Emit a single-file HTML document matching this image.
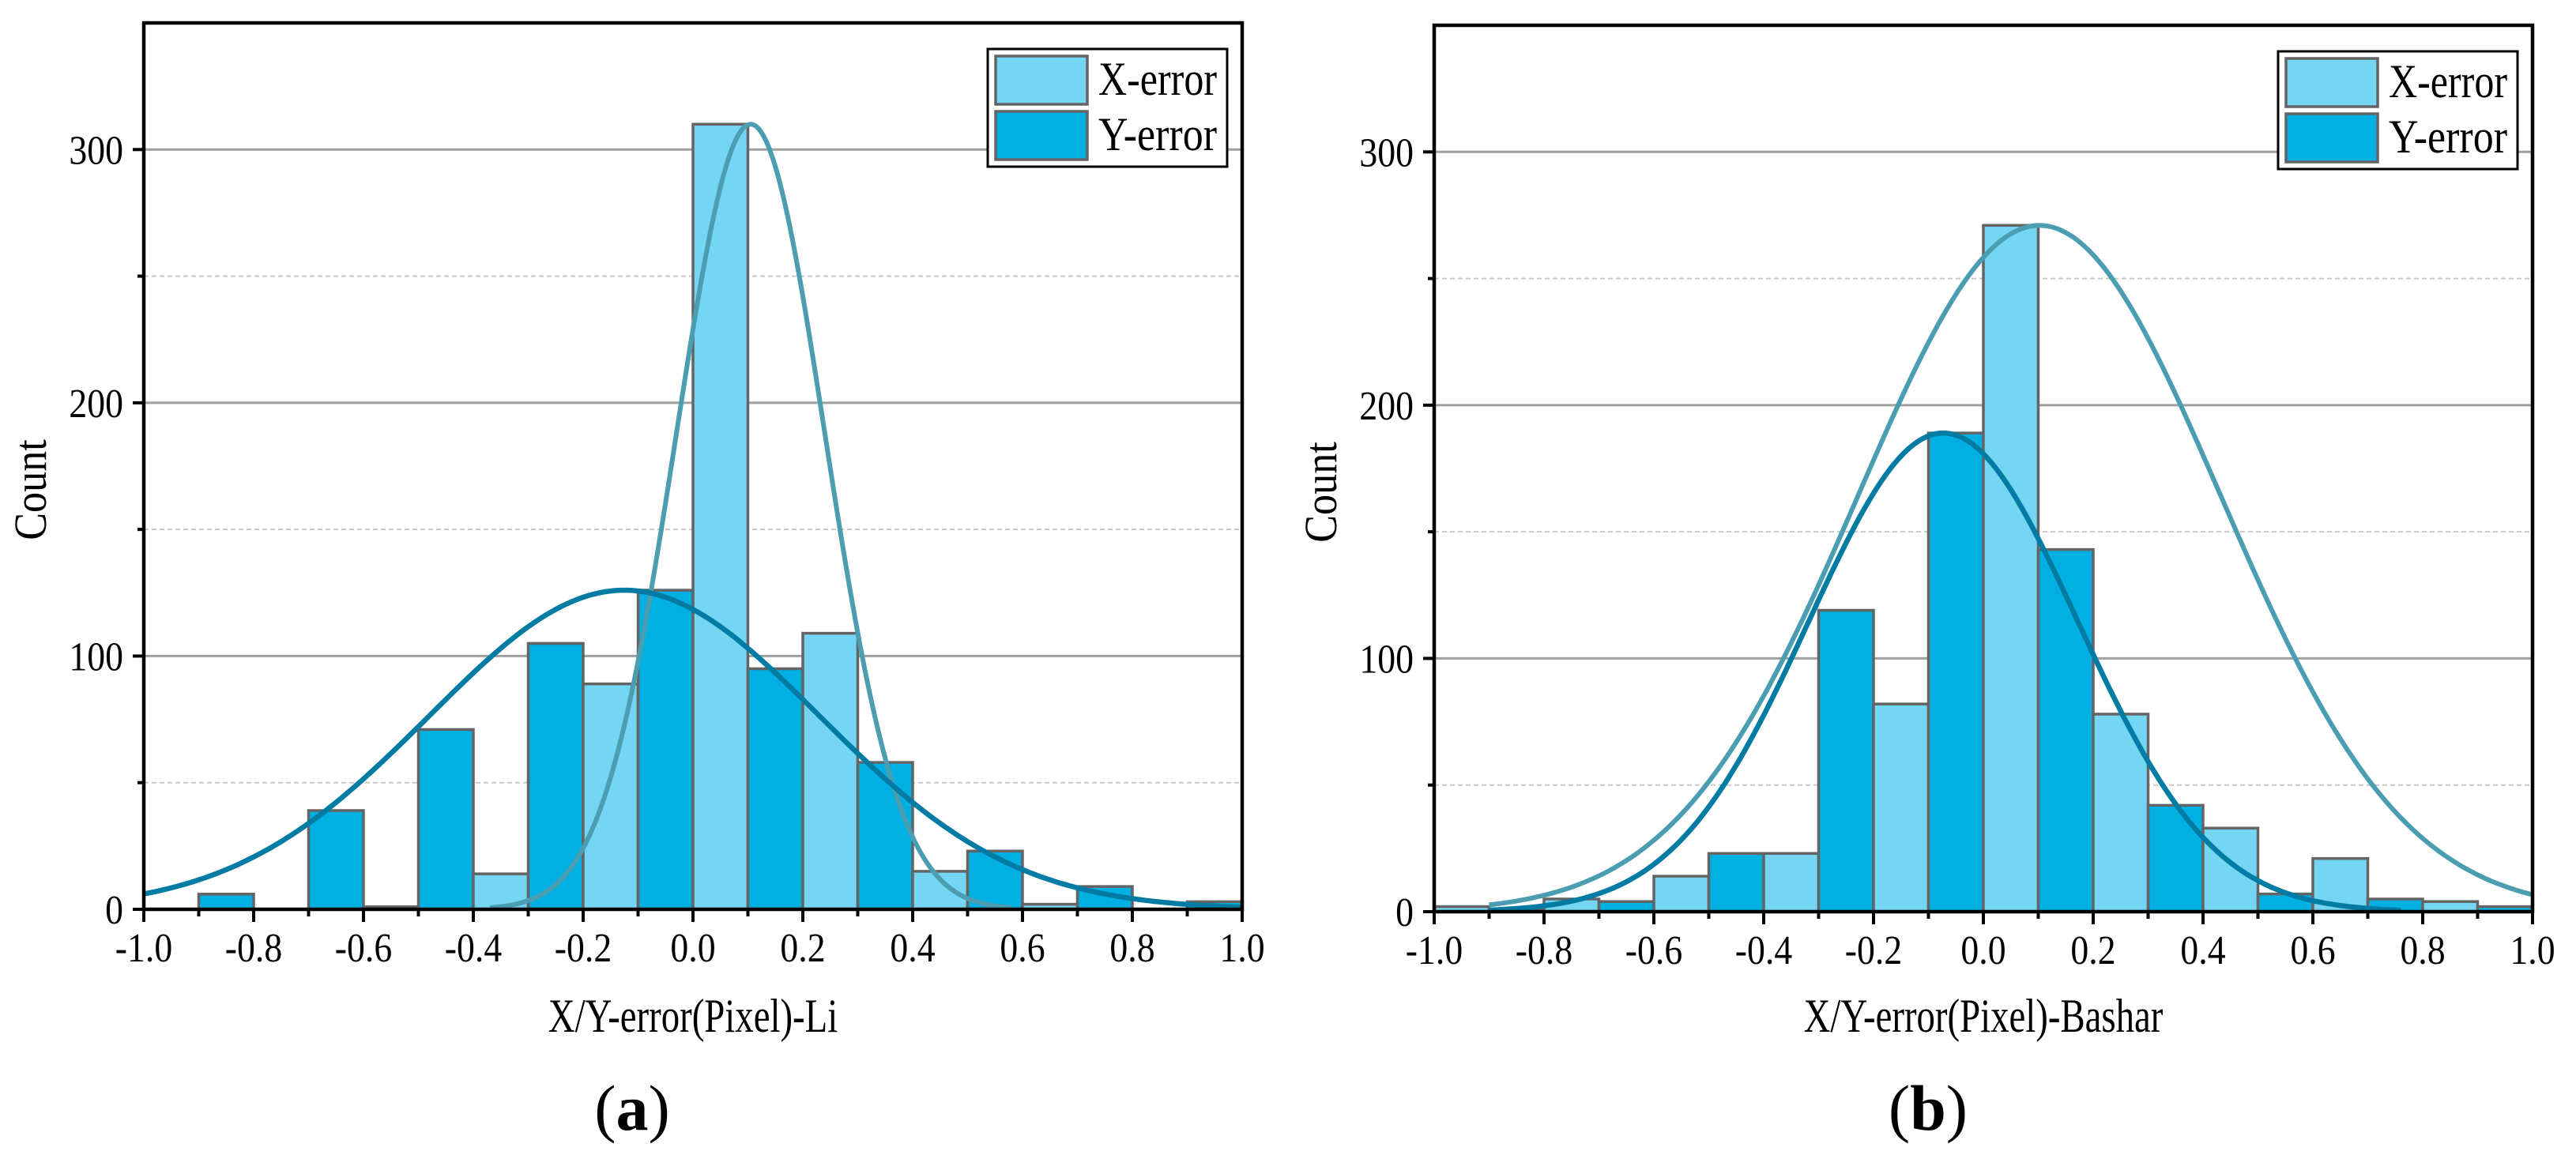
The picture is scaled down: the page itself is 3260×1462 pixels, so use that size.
<!DOCTYPE html>
<html><head><meta charset="utf-8"><style>
html,body{margin:0;padding:0;background:#fff}
svg{display:block}
text{font-family:"Liberation Serif",serif;fill:#000}
</style></head><body>
<svg id="chart" width="3260" height="1462" viewBox="0 0 3260 1462" xmlns="http://www.w3.org/2000/svg"></svg>
<script>
// Panel (a) data: bins from -1.0 to 1.0 width 0.1
const binStarts = [-1.0,-0.9,-0.8,-0.7,-0.6,-0.5,-0.4,-0.3,-0.2,-0.1,0.0,0.1,0.2,0.3,0.4,0.5,0.6,0.7,0.8,0.9];
const aXCounts = [0,0,0,0,1,0,14,0,89,0,310,0,109,0,15,0,2,0,0,0];
const aYCounts = [0,6,0,39,0,71,0,105,0,126,0,95,0,58,0,23,0,9,0,3];
const aXFit = [310,0.105,0.135,-0.37,0.58]; // peak, mean, sigma, from, to
const aYFit = [126,-0.125,0.355,-1.0,1.0];
// Panel (b) data
const bXCounts = [2,0,5,0,14,0,23,0,82,0,271,0,78,0,33,0,21,0,4,0];
const bYCounts = [0,1,0,4,0,23,0,119,0,189,0,143,0,42,0,7,0,5,0,2];
const bXFit = [271,0.102,0.33,-0.9,1.0];
const bYFit = [189,-0.073,0.245,-0.9,0.76];
const xTicks = [-1.0,-0.8,-0.6,-0.4,-0.2,0.0,0.2,0.4,0.6,0.8,1.0];
const yTicks = [0,100,200,300];
const yMinor = [50,150,250];

const NS="http://www.w3.org/2000/svg";
const svg=document.getElementById('chart');
function el(tag,attrs,parent,txt){const e=document.createElementNS(NS,tag);for(const k in attrs)e.setAttribute(k,attrs[k]);if(txt!==undefined)e.textContent=txt;(parent||svg).appendChild(e);return e;}

function panel(cfg){
  const g=el('g',{});
  
  
  const L=cfg.L,R=cfg.R,T=cfg.T,B=cfg.B;
  const sx=v=>L+(v+1)/2*(R-L);
  const sy=v=>B-v/350*(B-T);
  yMinor.forEach(v=>{const l=el('line',{x1:L,x2:R,y1:sy(v),y2:sy(v),stroke:'#c8c8c8','stroke-width':2,'stroke-dasharray':'6,4'},g);
    });
  yTicks.slice(1).forEach(v=>{const l=el('line',{x1:L,x2:R,y1:sy(v),y2:sy(v),stroke:'#a0a0a0','stroke-width':3},g);
    });
  binStarts.forEach((b,i)=>{
    [[cfg.xc[i],'#74d6f3','x-error-bar'],[cfg.yc[i],'#00b0e3','y-error-bar']].forEach(([c,col,nm])=>{
      if(c>0){const r=el('rect',{x:sx(b),y:sy(c),width:sx(b+0.1)-sx(b),height:sy(0)-sy(c),fill:col,stroke:'#646464','stroke-width':3.5},g);
        }
    });
  });
  [[cfg.xf,'#4b9db2',6,'x-error-fit-curve'],[cfg.yf,'#007ba4',6.5,'y-error-fit-curve']].forEach(([f,col,w,nm])=>{
    let d='';const n=200;
    for(let k=0;k<=n;k++){const x=f[3]+(f[4]-f[3])*k/n;const y=f[0]*Math.exp(-Math.pow(x-f[1],2)/(2*f[2]*f[2]));
      d+=(k?'L':'M')+sx(x).toFixed(1)+','+sy(y).toFixed(1);}
    const p=el('path',{d:d,fill:'none',stroke:col,'stroke-width':w},g);
    
  });
  const fr=el('rect',{x:L,y:T,width:R-L,height:B-T,fill:'none',stroke:'#000','stroke-width':4.5},g);
  
  for(let k=0;k<=20;k++){const v=-1+k*0.1;const major=k%2===0;
    const t=el('line',{x1:sx(v),x2:sx(v),y1:B,y2:B+(major?16:9),stroke:'#000','stroke-width':4},g);
    }
  xTicks.forEach(v=>{const t=el('text',{x:0,y:0,'font-size':52,'text-anchor':'middle',transform:`translate(${sx(v)},${B+66}) scale(0.88,1)`},g,v.toFixed(1));
    });
  yTicks.forEach(v=>{const t=el('line',{x1:L-14,x2:L,y1:sy(v),y2:sy(v),stroke:'#000','stroke-width':4},g);
    
    const tl=el('text',{x:0,y:0,'font-size':52,'text-anchor':'end',transform:`translate(${L-26},${sy(v)+18}) scale(0.88,1)`},g,String(v));
    });
  yMinor.forEach(v=>{const t=el('line',{x1:L-8,x2:L,y1:sy(v),y2:sy(v),stroke:'#000','stroke-width':4},g);
    });
  const xt=el('text',{x:0,y:0,'font-size':60,'text-anchor':'middle',transform:`translate(${(L+R)/2},${1306}) scale(0.78,1)`},g,cfg.xtitle);
  
  const yt=el('text',{x:0,y:0,'font-size':58,'text-anchor':'middle',transform:`translate(${L-124},${(T+B)/2+30}) rotate(-90) scale(0.9,1)`},g,'Count');
  
  const pl=el('text',{x:cfg.labX,y:1430,'font-size':82,'text-anchor':'middle'},g);
  
  el('tspan',{},pl,'(');el('tspan',{'font-weight':'bold'},pl,cfg.lab);el('tspan',{},pl,')');
  const lg=el('g',{},g);
  
  const lx=R-322,ly=cfg.legY;
  el('rect',{x:lx,y:ly,width:303,height:149,fill:'#fff',stroke:'#000','stroke-width':3},lg);
  [['X-error','#74d6f3',0],['Y-error','#00b0e3',1]].forEach(([t,c,i])=>{
    const e=el('g',{},lg);
    
    el('rect',{x:lx+10,y:ly+9+i*70,width:116,height:61,fill:c,stroke:'#646464','stroke-width':3.5},e);
    el('text',{x:lx+140,y:ly+58+i*70,'font-size':60,textLength:150,lengthAdjust:'spacingAndGlyphs'},e,t);
  });
}
panel({name:'panel-a-li',L:182,R:1572,T:29,B:1151,xc:aXCounts,yc:aYCounts,xf:aXFit,yf:aYFit,xtitle:'X/Y-error(Pixel)-Li',lab:'a',labX:800,legY:62});
panel({name:'panel-b-bashar',L:1815,R:3205,T:32,B:1154,xc:bXCounts,yc:bYCounts,xf:bXFit,yf:bYFit,xtitle:'X/Y-error(Pixel)-Bashar',lab:'b',labX:2440,legY:65});
</script>
</body></html>
